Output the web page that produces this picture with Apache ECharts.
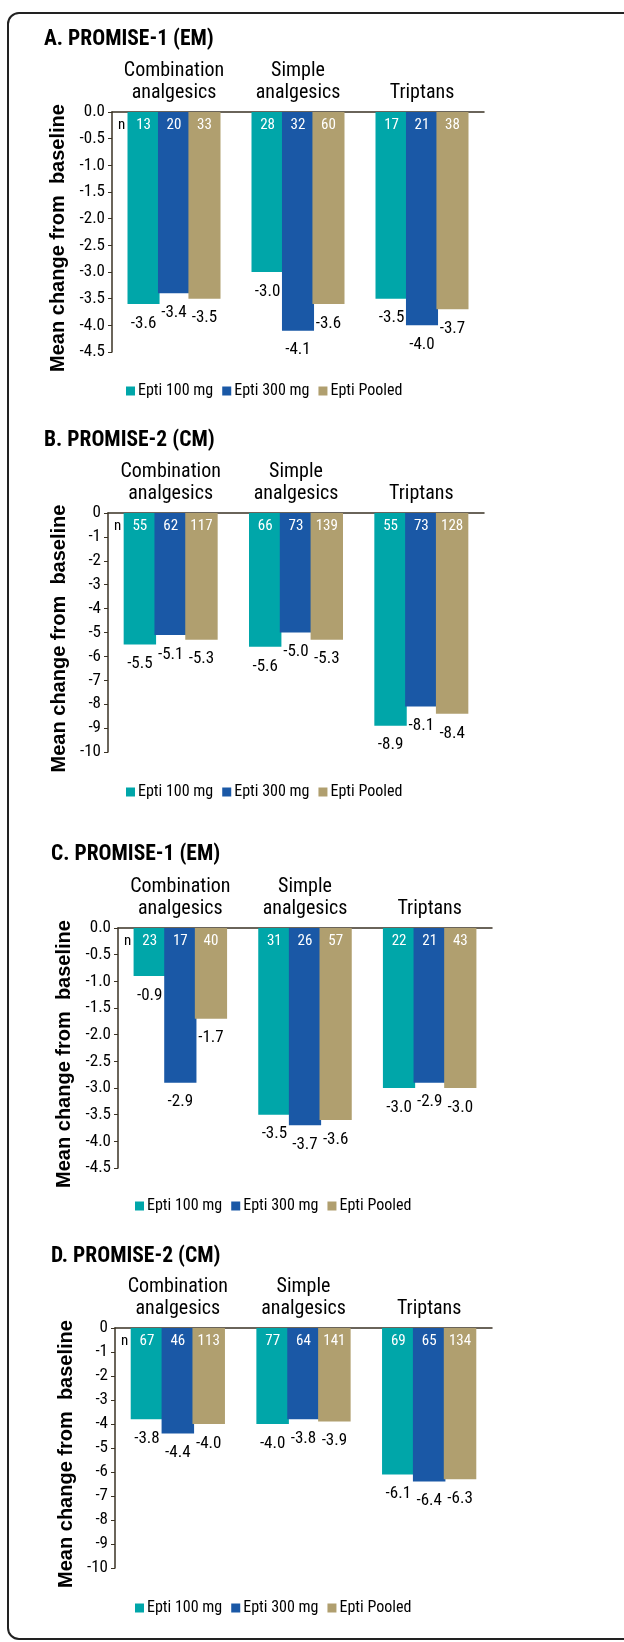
<!DOCTYPE html>
<html>
<head>
<meta charset="utf-8">
<script src="https://cdn.jsdelivr.net/npm/echarts@6/dist/echarts.min.js"></script>
<style>
  html, body { margin: 0; padding: 0; background: #fff; }
  #chart { width: 624px; height: 1642px; }
  #frame {
    position: absolute; left: 7px; top: 12px; width: 700px; height: 1628px;
    border: 2px solid #222; border-radius: 12px; box-sizing: border-box; pointer-events: none;
  }
</style>
</head>
<body>
<div id="chart"></div>
<div id="frame"></div>
<script>
// categories and legend entries
var categories = ["Combination\nanalgesics", "Simple\nanalgesics", "Triptans"];
var seriesNames = ["Epti 100 mg", "Epti 300 mg", "Epti Pooled"];
var panelTitles = ["A. PROMISE-1 (EM)", "B. PROMISE-2 (CM)", "C. PROMISE-1 (EM)", "D. PROMISE-2 (CM)"];

// mean change from baseline, one row per dose (100 mg, 300 mg, pooled), one value per category
var meanA = [[-3.6, -3.0, -3.5], [-3.4, -4.1, -4.0], [-3.5, -3.6, -3.7]];
var meanB = [[-5.5, -5.6, -8.9], [-5.1, -5.0, -8.1], [-5.3, -5.3, -8.4]];
var meanC = [[-0.9, -3.5, -3.0], [-2.9, -3.7, -2.9], [-1.7, -3.6, -3.0]];
var meanD = [[-3.8, -4.0, -6.1], [-4.4, -3.8, -6.4], [-4.0, -3.9, -6.3]];

// n per bar
var nA = [[13, 28, 17], [20, 32, 21], [33, 60, 38]];
var nB = [[55, 66, 55], [62, 73, 73], [117, 139, 128]];
var nC = [[23, 31, 22], [17, 26, 21], [40, 57, 43]];
var nD = [[67, 77, 69], [46, 64, 65], [113, 141, 134]];

// y axis ticks: [min, max, interval, decimals]
var ticksEM = [-4.5, 0, 0.5, 1];
var ticksCM = [-10, 0, 1, 0];

var panels = [
  { mean: meanA, n: nA, ticks: ticksEM },
  { mean: meanB, n: nB, ticks: ticksCM },
  { mean: meanC, n: nC, ticks: ticksEM },
  { mean: meanD, n: nD, ticks: ticksCM }
];

// layout of each panel (pixels)
var layout = [
  { tx: 44, ty: 29, g: [112, 112, 372, 240], lx: 126, ly: 383 },
  { tx: 44, ty: 430, g: [108, 513, 376, 239], lx: 126, ly: 784 },
  { tx: 51, ty: 844, g: [118, 928, 374, 240], lx: 135, ly: 1198 },
  { tx: 51, ty: 1246, g: [115, 1328, 377, 240], lx: 135, ly: 1600 }
];

var colors = ["#00a6a9", "#1a58a6", "#b09f6f"];
var axisColor = "#3a3224";
var narrow = "'Roboto Condensed', 'Liberation Sans', Arial, sans-serif";
var wide = "'Liberation Sans', Arial, sans-serif";

var option = {
  animation: false,
  color: colors,
  title: [], grid: [], xAxis: [], yAxis: [], legend: [], series: [], graphic: []
};

panels.forEach(function (p, i) {
  var L = layout[i];
  var t = p.ticks;
  option.title.push({
    text: panelTitles[i], left: L.tx, top: L.ty, padding: 0,
    textStyle: { fontFamily: narrow, fontSize: 21.5, fontWeight: "bold", color: "#000" }
  });
  option.grid.push({ left: L.g[0], top: L.g[1], width: L.g[2], height: L.g[3] });
  option.xAxis.push({
    type: "category", gridIndex: i, position: "top", data: categories,
    axisLine: { onZero: false, lineStyle: { color: axisColor, width: 1.5 } },
    axisTick: { inside: true, length: 6, lineStyle: { color: axisColor } },
    axisLabel: { fontFamily: narrow, fontSize: 20, color: "#000", lineHeight: 22, margin: 8, interval: 0 }
  });
  option.yAxis.push({
    type: "value", gridIndex: i, min: t[0], max: t[1], interval: t[2],
    name: "Mean change from  baseline", nameLocation: "middle", nameGap: 26,
    nameTextStyle: { fontFamily: wide, fontSize: 20, fontWeight: "bold", color: "#000", padding: [0, 12, 0, 0] },
    splitLine: { show: false },
    axisLine: { show: true, lineStyle: { color: axisColor, width: 1.5 } },
    axisTick: { show: true, length: 4, lineStyle: { color: axisColor } },
    axisLabel: {
      fontFamily: narrow, fontSize: 17, color: "#000", margin: 7,
      formatter: function (v) { return v.toFixed(t[3]); }
    }
  });
  option.legend.push({
    left: L.lx, top: L.ly, padding: 0, itemWidth: 9, itemHeight: 9, itemGap: 9,
    icon: "rect", data: seriesNames,
    textStyle: { fontFamily: narrow, fontSize: 16, color: "#000", padding: [0, 0, 0, -2] }
  });
  seriesNames.forEach(function (name, s) {
    var bar = { color: colors[s], borderWidth: 0 };
    // zero-height bar at the baseline that carries the n count
    option.series.push({
      name: name, type: "bar", xAxisIndex: i, yAxisIndex: i, stack: "p" + i + "s" + s,
      data: p.mean[s].map(function () { return 0; }),
      barGap: "-5%", barCategoryGap: "25%", z: 3,
      itemStyle: bar,
      label: {
        show: true, position: "bottom", distance: 6,
        fontFamily: narrow, fontSize: 15, color: "#fff",
        formatter: function (d) { return String(p.n[s][d.dataIndex]); }
      }
    });
    option.series.push({
      name: name, type: "bar", xAxisIndex: i, yAxisIndex: i, stack: "p" + i + "s" + s,
      data: p.mean[s], barGap: "-5%", barCategoryGap: "25%",
      itemStyle: bar,
      label: {
        show: true, position: "bottom", distance: 11,
        fontFamily: narrow, fontSize: 17, color: "#000",
        formatter: function (d) { return d.value.toFixed(1); }
      }
    });
  });
  option.graphic.push({
    type: "text", left: L.g[0] + 6, top: L.g[1] + 6,
    style: { text: "n", fontFamily: narrow, fontSize: 15, fill: "#000" }
  });
});

var chart = echarts.init(document.getElementById("chart"), null, { renderer: "canvas" });
chart.setOption(option);
</script>
</body>
</html>
